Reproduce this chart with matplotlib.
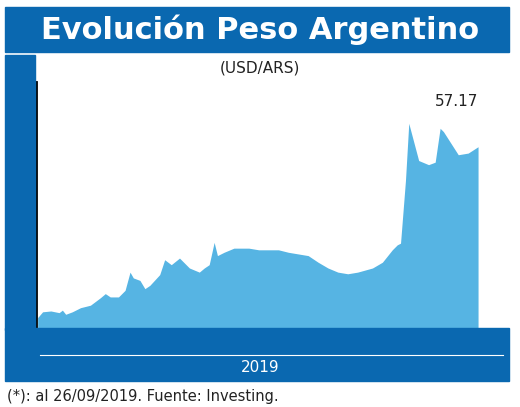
import matplotlib
matplotlib.use("Agg")
import matplotlib.pyplot as plt
import matplotlib.patches as mp

days = [0, 3, 8, 13, 15, 17, 21, 26, 32, 38, 41, 44, 49, 53, 56, 58, 62, 65, 68, 74, 77, 81, 86, 92, 98, 101, 104, 107, 109, 113, 119, 128, 134, 146, 152, 164, 170, 176, 182, 188, 194, 203, 209, 215, 218, 220, 223, 225, 231, 237, 241, 244, 246, 255, 261, 267]
vals = [36.5, 37.2, 37.3, 37.1, 37.4, 36.9, 37.2, 37.7, 38.0, 38.9, 39.4, 39.0, 39.0, 39.8, 42.0, 41.3, 41.0, 40.0, 40.4, 41.7, 43.5, 42.9, 43.7, 42.5, 42.0, 42.5, 42.9, 45.6, 44.0, 44.4, 44.9, 44.9, 44.7, 44.7, 44.4, 44.0, 43.2, 42.5, 42.0, 41.8, 42.0, 42.5, 43.2, 44.7, 45.3, 45.5, 53.1, 60.0, 55.5, 55.0, 55.3, 59.4, 59.0, 56.2, 56.4, 57.17]
tick_pos = [2, 21, 51, 81, 112, 148, 176, 210, 246, 267]
tick_labels = ["Ene", "Feb", "Mar", "Abr", "May", "Jun", "Jul", "Ago", "Sept.*", "26"]
yticks = [35, 41, 47, 53, 59, 65]

DARK = "#0a68b0"
AREA = "#56b4e3"
W, H = 520, 407
fig = plt.figure(figsize=(W/100, H/100), dpi=100)
fig.patch.set_facecolor("white")

def rect(x, y, w, h, c):
    fig.patches.append(mp.Rectangle((x/W, 1-(y+h)/H), w/W, h/H, color=c, transform=fig.transFigure, zorder=0))

rect(5, 7, 504, 45, DARK)
rect(5, 55, 30, 330-55, DARK)
rect(5, 328, 504, 53, DARK)
fig.text(0.5, 1-30/H, "Evolución Peso Argentino", color="white", fontsize=22, fontweight="bold", ha="center", va="center")
fig.text(0.5, 1-68/H, "(USD/ARS)", fontsize=11, ha="center", va="center", color="#222")
fig.text(0.5, 1-368/H, "2019", fontsize=11, ha="center", va="center", color="white")
fig.add_artist(plt.Line2D([40/W, 503/W], [1-355/H]*2, color="white", lw=0.8, transform=fig.transFigure))
fig.text(7/W, 1-396/H, "(*): al 26/09/2019. Fuente: Investing.", fontsize=10.5, va="center", color="#222")

ax = fig.add_axes([36/W, 1-330/H, (483-36)/W, (330-82)/H])
ax.set_facecolor("white")
ax.fill_between(days, vals, 35, color=AREA, lw=0)
ax.set_xlim(-1, 270)
ax.set_ylim(35, 65)
for s in ["top", "right"]:
    ax.spines[s].set_visible(False)
ax.spines["left"].set_linewidth(2)
ax.spines["bottom"].set_linewidth(2)
ax.set_yticks(yticks)
ax.set_yticklabels([str(v) for v in yticks], color="white", fontsize=11)
ax.tick_params(axis="y", length=6, width=2, pad=4)
ax.set_xticks(tick_pos)
ax.set_xticklabels(tick_labels, color="white", fontsize=10)
ax.tick_params(axis="x", length=0, pad=5)
ax.text(267, 57.17 + 5.5, f"{vals[-1]:.2f}", ha="right", va="center", fontsize=11, color="#222")
fig.savefig("out.png", dpi=100)
